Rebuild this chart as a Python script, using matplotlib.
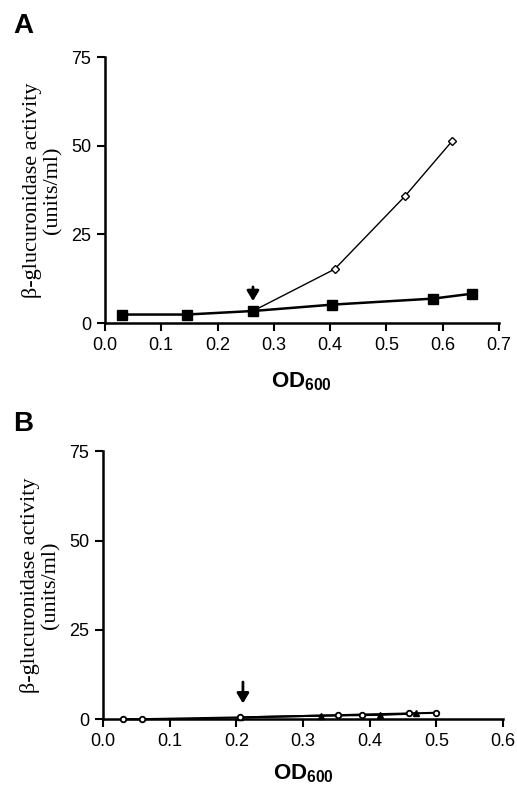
import numpy as np
import matplotlib.pyplot as plt

plt.rcParams['font.family'] = 'Liberation Sans'
plt.rcParams['mathtext.fontset'] = 'custom'
plt.rcParams['mathtext.bf'] = 'Liberation Sans:bold'
plt.rcParams['mathtext.rm'] = 'Liberation Sans'

# panel A data
a_sq_x = [0.031, 0.145, 0.263, 0.404, 0.583, 0.653]
a_sq_y = [2.4, 2.4, 3.4, 5.2, 6.9, 8.3]
a_dia_x = [0.263, 0.408, 0.533, 0.617]
a_dia_y = [3.4, 15.2, 35.8, 51.4]
a_arrow_x = 0.263

# panel B data
b_circ_x = [0.030, 0.058, 0.206, 0.353, 0.388, 0.459, 0.500]
b_circ_y = [0.0, 0.0, 0.5, 1.1, 1.3, 1.6, 1.8]
b_tri_x = [0.206, 0.327, 0.416, 0.470]
b_tri_y = [0.5, 1.0, 1.2, 1.6]
b_arrow_x = 0.21

yticks = [0, 25, 50, 75]
ylabel = 'β-glucuronidase activity\n(units/ml)'
xlabel = r'$\mathbf{OD}_{\mathbf{600}}$'

fig = plt.figure(figsize=(5.17, 7.86), dpi=100)
axA = fig.add_axes([0.203, 0.589, 0.762, 0.338])
axB = fig.add_axes([0.199, 0.085, 0.774, 0.341])


def style(ax, xmax, pad):
    ax.set_xlim(0, xmax)
    ax.set_ylim(0, 75)
    ax.set_yticks(yticks)
    ticks = np.arange(0, xmax + 0.001, 0.1)
    ax.set_xticks(ticks)
    ax.set_xticklabels([f'{v:.1f}' for v in ticks])
    for s in ['top', 'right']:
        ax.spines[s].set_visible(False)
    for s in ['left', 'bottom']:
        ax.spines[s].set_linewidth(1.8)
    ax.tick_params(width=1.5, length=6, labelsize=13, pad=4)
    ax.set_ylabel(ylabel, family='Liberation Serif', fontsize=16,
                  labelpad=6, linespacing=1.1)
    ax.set_xlabel(xlabel, fontsize=16, labelpad=pad)


style(axA, 0.7, 12)
style(axB, 0.6, 9)


def arrow(ax, x, y0, y1):
    ax.annotate('', xy=(x, y1), xytext=(x, y0),
                arrowprops=dict(arrowstyle='-|>,head_length=0.5,head_width=0.3',
                                color='black', lw=2, mutation_scale=12,
                                shrinkA=0, shrinkB=0))


# panel A
axA.plot(a_dia_x, a_dia_y, color='black', lw=1.0, marker='D', ms=4.5,
         mfc='white', mec='black', mew=1.0, clip_on=False)
axA.plot(a_sq_x, a_sq_y, color='black', lw=1.8, marker='s', ms=7,
         mfc='black', mec='black', clip_on=False, zorder=3)
arrow(axA, a_arrow_x, 10.2, 6.2)

# panel B
axB.plot(b_circ_x, b_circ_y, color='black', lw=1.5, marker='o', ms=4,
         mfc='white', mec='black', mew=1.3, clip_on=False, zorder=3)
axB.plot(b_tri_x, b_tri_y, color='black', lw=1.5, marker='^', ms=5,
         mfc='black', mec='black', clip_on=False, zorder=2)
arrow(axB, b_arrow_x, 10.4, 4.4)

fig.text(0.025, 0.958, 'A', fontsize=20, fontweight='bold')
fig.text(0.025, 0.452, 'B', fontsize=20, fontweight='bold')

fig.savefig('out.png', dpi=100)
